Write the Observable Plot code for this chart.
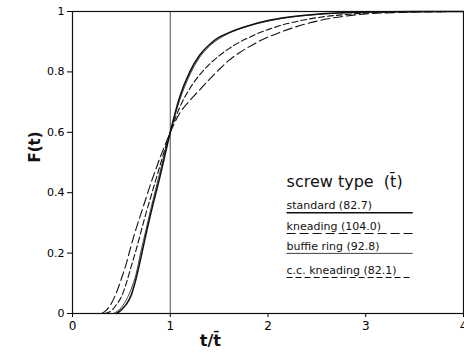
<!DOCTYPE html>
<html>
<head>
<meta charset="utf-8">
<script src="https://cdn.jsdelivr.net/npm/d3@7"></script>
<script src="https://cdn.jsdelivr.net/npm/@observablehq/plot@0.6"></script>
<style>
  html, body { margin: 0; padding: 0; background: #fff; }
  svg { font-family: "DejaVu Sans", sans-serif; }
</style>
</head>
<body>
<div id="chart"></div>
<script>
const seriesNames = ["standard (82.7)", "kneading (104.0)", "buffie ring (92.8)", "c.c. kneading (82.1)"];
const seriesDash = ["none", "9,4", "none", "6,3"];
const seriesWidth = [1.5, 1.1, 0.8, 1.1];

const standardT = [0.45,0.5,0.55,0.6,0.65,0.7,0.75,0.8,0.85,0.9,0.95,1.0,1.1,1.2,1.3,1.4,1.5,1.6,1.8,2.0,2.2,2.5,3.0,3.5,4.0];
const standardF = [0,0.012,0.03,0.06,0.115,0.185,0.26,0.33,0.395,0.46,0.53,0.60,0.72,0.80,0.855,0.89,0.915,0.93,0.953,0.97,0.981,0.991,0.998,1,1];

const kneadingT = [0.3,0.35,0.4,0.45,0.5,0.55,0.6,0.65,0.7,0.75,0.8,0.85,0.9,0.95,1.0,1.1,1.2,1.3,1.4,1.5,1.6,1.7,1.8,1.9,2.0,2.2,2.4,2.6,2.8,3.0,3.5,4.0];
const kneadingF = [0,0.012,0.035,0.07,0.115,0.165,0.225,0.28,0.33,0.38,0.43,0.475,0.52,0.56,0.60,0.665,0.705,0.74,0.775,0.808,0.838,0.862,0.882,0.9,0.915,0.94,0.96,0.975,0.985,0.992,0.998,1];

const buffieT = [0.42,0.5,0.55,0.6,0.65,0.7,0.75,0.8,0.85,0.9,0.95,1.0,1.1,1.2,1.3,1.4,1.5,1.6,1.8,2.0,2.2,2.5,3.0,3.5,4.0];
const buffieF = [0,0.02,0.045,0.08,0.13,0.205,0.275,0.345,0.41,0.475,0.54,0.60,0.71,0.79,0.848,0.885,0.91,0.928,0.952,0.968,0.98,0.99,0.998,1,1];

const ccT = [0.33,0.4,0.45,0.5,0.55,0.6,0.65,0.7,0.75,0.8,0.85,0.9,0.95,1.0,1.1,1.2,1.3,1.4,1.5,1.6,1.7,1.8,1.9,2.0,2.2,2.4,2.6,2.8,3.0,3.5,4.0];
const ccF = [0,0.01,0.03,0.055,0.1,0.155,0.21,0.27,0.33,0.385,0.44,0.495,0.55,0.60,0.685,0.745,0.79,0.825,0.853,0.877,0.897,0.913,0.928,0.94,0.96,0.974,0.984,0.99,0.995,0.999,1];

const xTicks = [0, 1, 2, 3, 4];
const yTicks = [0, 0.2, 0.4, 0.6, 0.8, 1];
const legendTitle = "screw type  (t\u0304)";

const seriesT = [standardT, kneadingT, buffieT, ccT];
const seriesF = [standardF, kneadingF, buffieF, ccF];

const rows = [];
seriesNames.forEach((name, i) => {
  seriesT[i].forEach((t, j) => rows.push({series: name, t, F: seriesF[i][j]}));
});

// legend placement (in data units)
const legX0 = 2.19, legX1 = 3.48;
const legLineY = [0.334, 0.265, 0.199, 0.119];
const legend = seriesNames.map((name, i) => ({name, y: legLineY[i], dash: seriesDash[i], w: seriesWidth[i]}));

const marks = [
  Plot.frame({stroke: "#111", strokeWidth: 1.2}),
  Plot.ruleX([1], {stroke: "#222", strokeWidth: 0.8}),
  Plot.axisX({ticks: xTicks, tickSize: 4, fontSize: 12, tickPadding: 4, label: null,
    tickFormat: d => String(d)}),
  Plot.axisY({ticks: yTicks, tickSize: 5, fontSize: 11, tickPadding: 3, label: null,
    tickFormat: d => (d === 0 || d === 1) ? String(d) : d.toFixed(1)})
];
seriesNames.forEach((name, i) => {
  marks.push(Plot.line(rows.filter(r => r.series === name), {
    x: "t", y: "F", curve: "monotone-x", stroke: "#111",
    strokeWidth: seriesWidth[i], strokeDasharray: seriesDash[i]
  }));
});
legend.forEach(d => {
  marks.push(Plot.link([d], {x1: () => legX0, x2: () => legX1, y1: "y", y2: "y",
    stroke: "#111", strokeWidth: d.w, strokeDasharray: d.dash}));
});
marks.push(Plot.text(legend, {x: () => legX0, y: "y", text: "name", textAnchor: "start",
  dy: -7, fontSize: 11, fill: "#111"}));
marks.push(Plot.text([legendTitle], {x: () => legX0, y: () => 0.42, text: d => d, textAnchor: "start",
  dy: -5, fontSize: 16, fill: "#111"}));
marks.push(Plot.text(["F(t)"], {frameAnchor: "left", dx: -37, rotate: -90, text: d => d,
  fontSize: 15, fontWeight: "bold", fill: "#111"}));
marks.push(Plot.text(["t/t\u0304"], {x: () => 1.41, frameAnchor: "bottom", dy: 32, text: d => d,
  fontSize: 16, fontWeight: "bold", fill: "#111"}));

const chart = Plot.plot({
  width: 464,
  height: 364,
  marginLeft: 72,
  marginRight: 1,
  marginTop: 11,
  marginBottom: 51,
  x: {domain: [0, 4]},
  y: {domain: [0, 1]},
  marks
});
document.getElementById("chart").appendChild(chart);
</script>
</body>
</html>
